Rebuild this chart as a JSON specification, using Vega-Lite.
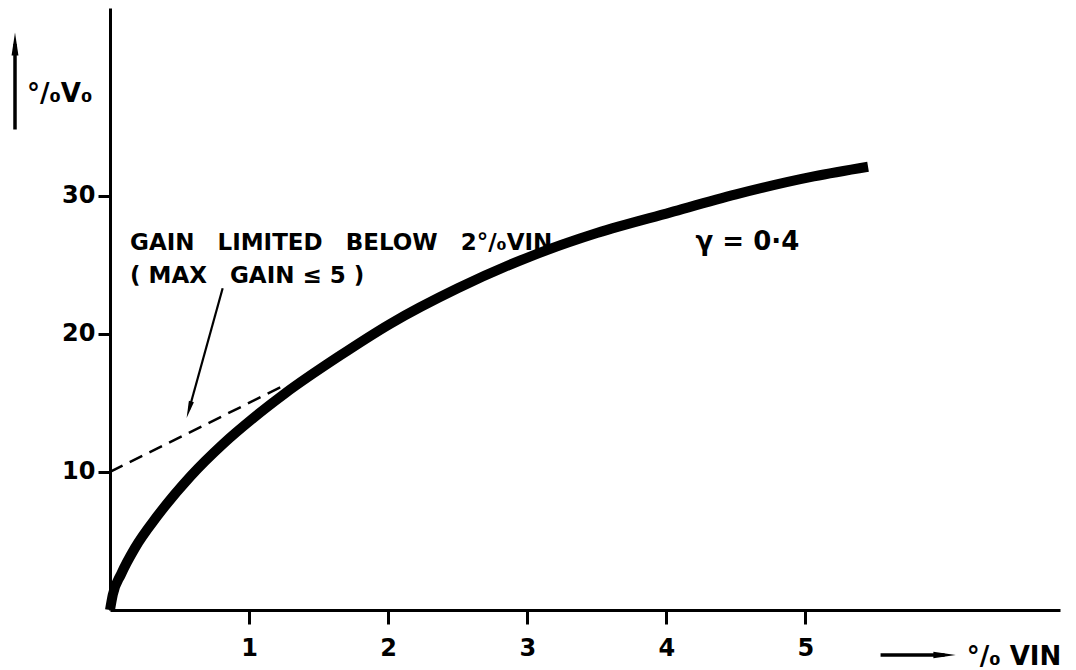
{
  "$schema": "https://vega.github.io/schema/vega-lite/v6.json",
  "width": 950,
  "height": 602,
  "autosize": {"type": "none"},
  "padding": {"left": 110, "top": 8, "right": 16, "bottom": 60},
  "background": "white",
  "config": {
    "view": {"stroke": null},
    "font": "DejaVu Sans",
    "axis": {
      "grid": false,
      "domainColor": "black",
      "domainWidth": 3,
      "tickColor": "black",
      "tickWidth": 3,
      "labelColor": "black",
      "labelFont": "DejaVu Sans",
      "labelFontSize": 24,
      "labelFontWeight": "bold",
      "title": null
    }
  },
  "datasets": {
    "curve": [
      {"vin": 0, "vo": 0},
      {"vin": 0.02, "vo": 1.1},
      {"vin": 0.08, "vo": 2.6},
      {"vin": 0.18, "vo": 4.5},
      {"vin": 0.34, "vo": 6.8},
      {"vin": 0.58, "vo": 9.7},
      {"vin": 0.81, "vo": 12.0},
      {"vin": 1.03, "vo": 13.9},
      {"vin": 1.26, "vo": 15.7},
      {"vin": 1.65, "vo": 18.4},
      {"vin": 2.01, "vo": 20.7},
      {"vin": 2.5, "vo": 23.3},
      {"vin": 3.02, "vo": 25.6},
      {"vin": 3.5, "vo": 27.3},
      {"vin": 4.03, "vo": 28.8},
      {"vin": 4.5, "vo": 30.1},
      {"vin": 5.06, "vo": 31.4},
      {"vin": 5.45, "vo": 32.1}
    ],
    "limit": [
      {"vin": 0, "vo": 10},
      {"vin": 1.26, "vo": 16.3}
    ],
    "upArrow": [{"x": -0.683, "y": 34.8, "y2": 41.0}],
    "rightArrow": [{"x": 5.54, "x2": 6.0, "y": -3.26}],
    "noteArrow": [{"x": 0.81, "y": 23.3, "x2": 0.568, "y2": 14.5}],
    "labels": [
      {"x": 0.144, "y": 26.1, "text": "GAIN\u2003LIMITED\u2003BELOW\u20032°/₀VIN"},
      {"x": 0.144, "y": 23.7, "text": "( MAX\u2003GAIN ≤ 5 )"},
      {"x": 4.21, "y": 26.1, "text": "γ = 0·4"},
      {"x": -0.597, "y": 36.8, "text": "°/₀V₀"},
      {"x": 6.16, "y": -3.95, "text": "°/₀ VIN"}
    ]
  },
  "layer": [
    {
      "data": {"name": "curve"},
      "mark": {"type": "line", "color": "black", "strokeWidth": 10, "interpolate": "monotone", "strokeCap": "butt"},
      "encoding": {
        "x": {"field": "vin", "type": "quantitative", "scale": {"domain": [0, 6.83], "nice": false, "zero": false},
              "axis": {"values": [1, 2, 3, 4, 5], "format": "d", "tickSize": 14, "labelPadding": 12}},
        "y": {"field": "vo", "type": "quantitative", "scale": {"domain": [0, 43.6], "nice": false, "zero": false},
              "axis": {"values": [10, 20, 30], "format": "d", "tickSize": 12, "labelPadding": 3}}
      }
    },
    {
      "data": {"name": "limit"},
      "mark": {"type": "line", "color": "black", "strokeWidth": 2.5, "strokeDash": [14, 8]},
      "encoding": {
        "x": {"field": "vin", "type": "quantitative"},
        "y": {"field": "vo", "type": "quantitative"}
      }
    },
    {
      "data": {"name": "upArrow"},
      "layer": [
        {"mark": {"type": "rule", "color": "black", "strokeWidth": 3.5, "clip": false},
         "encoding": {"x": {"field": "x", "type": "quantitative"}, "y": {"field": "y", "type": "quantitative"}, "y2": {"field": "y2"}}},
        {"mark": {"type": "point", "shape": "M0,-1L0.3,1L-0.3,1Z", "filled": true, "color": "black", "opacity": 1, "size": 530, "clip": false},
         "encoding": {"x": {"field": "x", "type": "quantitative"}, "y": {"field": "y2", "type": "quantitative"}}}
      ]
    },
    {
      "data": {"name": "rightArrow"},
      "layer": [
        {"mark": {"type": "rule", "color": "black", "strokeWidth": 3.5, "clip": false},
         "encoding": {"x": {"field": "x", "type": "quantitative"}, "x2": {"field": "x2"}, "y": {"field": "y", "type": "quantitative"}}},
        {"mark": {"type": "point", "shape": "M0,-1L0.3,1L-0.3,1Z", "angle": 90, "filled": true, "color": "black", "opacity": 1, "size": 500, "clip": false},
         "encoding": {"x": {"field": "x2", "type": "quantitative"}, "y": {"field": "y", "type": "quantitative"}}}
      ]
    },
    {
      "data": {"name": "noteArrow"},
      "layer": [
        {"mark": {"type": "rule", "color": "black", "strokeWidth": 2.2},
         "encoding": {"x": {"field": "x", "type": "quantitative"}, "y": {"field": "y", "type": "quantitative"}, "x2": {"field": "x2"}, "y2": {"field": "y2"}}},
        {"mark": {"type": "point", "shape": "M0,-1L0.3,1L-0.3,1Z", "angle": 196, "filled": true, "color": "black", "opacity": 1, "size": 300},
         "encoding": {"x": {"field": "x2", "type": "quantitative"}, "y": {"field": "y2", "type": "quantitative"}}}
      ]
    },
    {
      "data": {"name": "labels"},
      "transform": [{"filter": "datum.x < 4 && datum.x > 0"}],
      "mark": {"type": "text", "align": "left", "baseline": "alphabetic", "fontSize": 23, "fontWeight": "bold", "color": "black", "clip": false},
      "encoding": {
        "x": {"field": "x", "type": "quantitative"},
        "y": {"field": "y", "type": "quantitative"},
        "text": {"field": "text", "type": "nominal"}
      }
    },
    {
      "data": {"name": "labels"},
      "transform": [{"filter": "datum.x >= 4 || datum.x <= 0"}],
      "mark": {"type": "text", "align": "left", "baseline": "alphabetic", "fontSize": 26, "fontWeight": "bold", "color": "black", "clip": false},
      "encoding": {
        "x": {"field": "x", "type": "quantitative"},
        "y": {"field": "y", "type": "quantitative"},
        "text": {"field": "text", "type": "nominal"}
      }
    }
  ]
}
